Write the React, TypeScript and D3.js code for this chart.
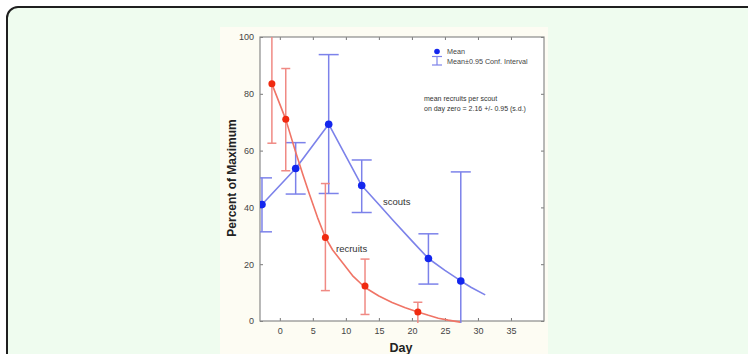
import React, { useRef, useEffect } from "react";
import * as d3 from "d3";

// scouts: means with 0.95 confidence interval
const scoutDays = [-2.7, 2.4, 7.4, 12.4, 22.5, 27.4];
const scoutMeans = [41.0, 53.7, 69.3, 47.7, 22.0, 14.1];
const scoutUpper = [50.4, 62.8, 93.8, 56.7, 30.7, 52.5];
const scoutLower = [31.4, 44.7, 44.9, 38.2, 13.0, -3];
// fitted line
const scoutFitDays = [-2.7, 2.4, 7.4, 12.4, 15, 17.2, 20, 22.5, 25, 27.4, 29, 31.1];
const scoutFitValues = [41.0, 53.7, 69.3, 47.7, 41.0, 35.3, 28.2, 22.0, 17.8, 14.1, 11.8, 9.2];

// recruits
const recruitDays = [-1.2, 0.9, 6.9, 12.9, 20.9];
const recruitMeans = [83.5, 71.0, 29.4, 12.3, 3.2];
const recruitUpper = [106, 88.9, 48.4, 21.8, 6.6];
const recruitLower = [62.6, 52.9, 10.7, 2.3, -1];
const recruitFitDays = [-1.2, 0.9, 2.3, 3.5, 4.5, 5.7, 6.9, 8, 9.5, 11, 12.9, 15, 17, 19, 20.9, 22.5, 24, 25.5, 27.3];
const recruitFitValues = [83.5, 71.0, 60.2, 51.5, 44.5, 36.5, 29.4, 25.0, 20.5, 16.0, 11.8, 8.8, 6.5, 4.7, 3.2, 2.0, 1.0, 0.3, -0.4];

const xTicks = [0, 5, 10, 15, 20, 25, 30, 35];
const yTicks = [0, 20, 40, 60, 80, 100];

const BLUE_LINE = "#7c82ea";
const BLUE_DOT = "#1326ee";
const RED_LINE = "#f07466";
const RED_BAR = "#f08a84";
const RED_DOT = "#f02a10";

function App() {
  const svgRef = useRef<SVGSVGElement>(null);

  useEffect(() => {
    const width = 748;
    const height = 354;
    const plot = { left: 260, right: 544, top: 37, bottom: 321 };

    const svg = d3.select(svgRef.current).attr("width", width).attr("height", height);
    svg.selectAll("*").remove();

    // page panel
    svg.append("rect").attr("width", width).attr("height", height).attr("fill", "#ffffff");
    svg.append("rect")
      .attr("x", 7).attr("y", 7).attr("width", 770).attr("height", 380).attr("rx", 11)
      .attr("fill", "#effcef").attr("stroke", "#1f1f1f").attr("stroke-width", 2);

    // chart image background
    svg.append("rect")
      .attr("x", 220).attr("y", 27).attr("width", 328).attr("height", 330)
      .attr("fill", "#fdfcf3");
    svg.append("rect")
      .attr("x", plot.left).attr("y", plot.top)
      .attr("width", plot.right - plot.left).attr("height", plot.bottom - plot.top)
      .attr("fill", "#ffffff");

    const x = d3.scaleLinear().domain([-3, 40]).range([plot.left, plot.right]);
    const y = d3.scaleLinear().domain([0, 100]).range([plot.bottom, plot.top]);

    svg.append("defs").append("clipPath").attr("id", "plotclip")
      .append("rect")
      .attr("x", plot.left).attr("y", plot.top)
      .attr("width", plot.right - plot.left).attr("height", plot.bottom - plot.top + 2);

    const font = "Arial, 'Liberation Sans', sans-serif";

    // axes with inward ticks
    const axes = [
      { axis: d3.axisBottom(x).tickValues(xTicks).tickSizeInner(-3).tickSizeOuter(0).tickPadding(7), t: `translate(0,${plot.bottom})`, labels: true },
      { axis: d3.axisTop(x).tickValues(xTicks).tickSizeInner(-3).tickSizeOuter(0), t: `translate(0,${plot.top})`, labels: false },
      { axis: d3.axisLeft(y).tickValues(yTicks).tickSizeInner(-3).tickSizeOuter(0).tickPadding(6), t: `translate(${plot.left},0)`, labels: true },
      { axis: d3.axisRight(y).tickValues(yTicks).tickSizeInner(-3).tickSizeOuter(0), t: `translate(${plot.right},0)`, labels: false },
    ];
    axes.forEach(a => {
      const g = svg.append("g").attr("transform", a.t).call(a.axis);
      g.select(".domain").remove();
      g.selectAll(".tick line").attr("stroke", "#777");
      g.selectAll(".tick text")
        .attr("fill", "#444").attr("font-size", 9).attr("font-family", font)
        .style("display", a.labels ? null : "none");
    });

    svg.append("rect")
      .attr("x", plot.left).attr("y", plot.top)
      .attr("width", plot.right - plot.left).attr("height", plot.bottom - plot.top)
      .attr("fill", "none").attr("stroke", "#8a8a8a").attr("stroke-width", 1.2);

    const layer = svg.append("g").attr("clip-path", "url(#plotclip)");

    const line = d3.line<[number, number]>().x(d => x(d[0])).y(d => y(d[1]));

    const drawSeries = (
      days: number[], means: number[], upper: number[], lower: number[],
      fitDays: number[], fitValues: number[],
      lineColor: string, barColor: string, dotColor: string, capHalf: number, r: number
    ) => {
      days.forEach((d, i) => {
        const cx = x(d);
        layer.append("line")
          .attr("x1", cx).attr("x2", cx).attr("y1", y(upper[i])).attr("y2", y(lower[i]))
          .attr("stroke", barColor).attr("stroke-width", 1.5);
        [upper[i], lower[i]].forEach(v => {
          layer.append("line")
            .attr("x1", cx - capHalf).attr("x2", cx + capHalf).attr("y1", y(v)).attr("y2", y(v))
            .attr("stroke", barColor).attr("stroke-width", 1.5);
        });
      });
      layer.append("path")
        .datum(fitDays.map((d, i) => [d, fitValues[i]] as [number, number]))
        .attr("d", line)
        .attr("fill", "none").attr("stroke", lineColor).attr("stroke-width", 1.6)
        .attr("stroke-linejoin", "round");
      days.forEach((d, i) => {
        layer.append("circle")
          .attr("cx", x(d)).attr("cy", y(means[i])).attr("r", r).attr("fill", dotColor);
      });
    };

    drawSeries(scoutDays, scoutMeans, scoutUpper, scoutLower, scoutFitDays, scoutFitValues,
      BLUE_LINE, BLUE_LINE, BLUE_DOT, 10, 3.8);
    drawSeries(recruitDays, recruitMeans, recruitUpper, recruitLower, recruitFitDays, recruitFitValues,
      RED_LINE, RED_BAR, RED_DOT, 4.5, 3.5);

    // series labels
    svg.append("text").attr("x", 383).attr("y", 205).attr("font-size", 9.5)
      .attr("font-family", font).attr("fill", "#333").text("scouts");
    svg.append("text").attr("x", 336).attr("y", 252).attr("font-size", 9.5)
      .attr("font-family", font).attr("fill", "#333").text("recruits");

    // legend
    svg.append("circle").attr("cx", 437).attr("cy", 51.5).attr("r", 2.8).attr("fill", BLUE_DOT);
    svg.append("text").attr("x", 447).attr("y", 54).attr("font-size", 7.2)
      .attr("font-family", font).attr("fill", "#444").text("Mean");
    const lg = svg.append("g").attr("stroke", BLUE_LINE).attr("stroke-width", 1.2);
    lg.append("line").attr("x1", 437).attr("x2", 437).attr("y1", 56.5).attr("y2", 65);
    lg.append("line").attr("x1", 432).attr("x2", 442).attr("y1", 56.5).attr("y2", 56.5);
    lg.append("line").attr("x1", 432).attr("x2", 442).attr("y1", 65).attr("y2", 65);
    svg.append("text").attr("x", 447).attr("y", 63.5).attr("font-size", 7.2)
      .attr("font-family", font).attr("fill", "#444").text("Mean±0.95 Conf. Interval");

    // annotation
    svg.append("text").attr("x", 424).attr("y", 101).attr("font-size", 7)
      .attr("font-family", font).attr("fill", "#333").text("mean recruits per scout");
    svg.append("text").attr("x", 424).attr("y", 111).attr("font-size", 7)
      .attr("font-family", font).attr("fill", "#333").text("on day zero = 2.16 +/- 0.95 (s.d.)");

    // axis titles
    svg.append("text").attr("x", 401).attr("y", 352).attr("text-anchor", "middle")
      .attr("font-size", 12.5).attr("font-weight", "bold").attr("font-family", font)
      .attr("fill", "#222").text("Day");
    svg.append("text").attr("transform", "rotate(-90)")
      .attr("x", -178).attr("y", 236).attr("text-anchor", "middle")
      .attr("font-size", 12).attr("font-weight", "bold").attr("font-family", font)
      .attr("fill", "#222").text("Percent of Maximum");
  }, []);

  return <svg ref={svgRef} style={{ position: "absolute", left: 0, top: 0 }}></svg>;
}

export default App;
